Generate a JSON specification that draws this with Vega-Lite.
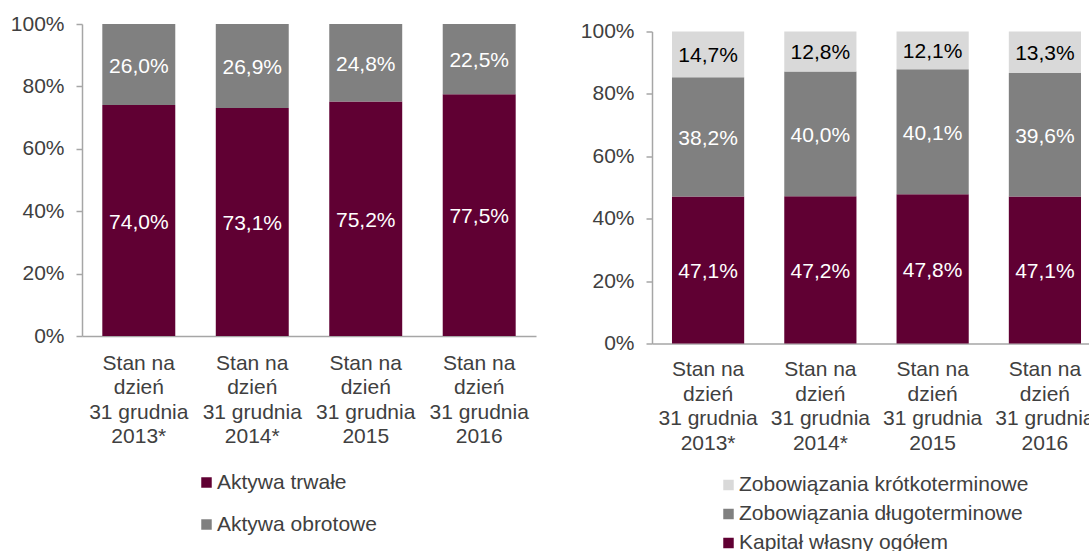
{
  "$schema": "https://vega.github.io/schema/vega-lite/v6.json",
  "padding": {"top": 13, "left": 10, "right": 0, "bottom": 0},
  "background": "white",
  "config": {
    "font": "Liberation Sans",
    "view": {"stroke": null},
    "locale": {"number": {"decimal": ",", "thousands": " ", "grouping": [3], "currency": ["", " zł"]}},
    "concat": {"spacing": 44},
    "axis": {"labelFont": "Liberation Sans", "labelFontSize": 21, "labelColor": "#404040", "domainColor": "#A6A6A6", "tickColor": "#A6A6A6", "domainWidth": 1.5, "tickWidth": 1.5, "grid": false, "title": null},
    "legend": {"labelFont": "Liberation Sans", "labelFontSize": 21, "labelColor": "#404040", "symbolType": "square", "symbolSize": 110, "symbolStrokeWidth": 0, "labelOffset": 0, "labelLimit": 0, "title": null, "orient": "none"}
  },
  "center": true,
  "resolve": {"scale": {"color": "independent"}, "legend": {"color": "independent"}},
  "hconcat": [
    {
      "width": 454,
      "height": 312,
      "data": {"values": [
        {"okres": "2013*", "seria": "Aktywa trwałe", "k": 1, "v": 0.740},
        {"okres": "2013*", "seria": "Aktywa obrotowe", "k": 2, "v": 0.260},
        {"okres": "2014*", "seria": "Aktywa trwałe", "k": 1, "v": 0.731},
        {"okres": "2014*", "seria": "Aktywa obrotowe", "k": 2, "v": 0.269},
        {"okres": "2015", "seria": "Aktywa trwałe", "k": 1, "v": 0.752},
        {"okres": "2015", "seria": "Aktywa obrotowe", "k": 2, "v": 0.248},
        {"okres": "2016", "seria": "Aktywa trwałe", "k": 1, "v": 0.775},
        {"okres": "2016", "seria": "Aktywa obrotowe", "k": 2, "v": 0.225}
      ]},
      "encoding": {
        "x": {"field": "okres", "type": "nominal", "sort": null,
              "scale": {"paddingInner": 0.357, "paddingOuter": 0.179},
              "axis": {"labelAngle": 0, "ticks": false, "labelPadding": 16, "labelBaseline": "top", "labelLineHeight": 24.5,
                       "labelExpr": "['Stan na', 'dzień', '31 grudnia', datum.label]"}},
        "y": {"field": "v", "type": "quantitative", "stack": "zero",
              "scale": {"domain": [0, 1], "nice": false},
              "axis": {"values": [0, 0.2, 0.4, 0.6, 0.8, 1], "format": ".0%", "tickSize": 6, "labelPadding": 12}},
        "order": {"field": "k", "type": "quantitative"}
      },
      "layer": [
        {"mark": {"type": "bar"},
         "encoding": {"color": {"field": "seria", "type": "nominal",
            "scale": {"domain": ["Aktywa trwałe", "Aktywa obrotowe"], "range": ["#600033", "#808080"]},
            "legend": {"legendX": 88, "legendY": 422, "padding": 26, "rowPadding": 20, "direction": "vertical"}}}},
        {"mark": {"type": "text", "fontSize": 21, "color": "white", "dy": 2},
         "encoding": {"y": {"field": "v", "type": "quantitative", "stack": "zero", "bandPosition": 0.5},
                      "text": {"field": "v", "type": "quantitative", "format": ".1%"}}}
      ]
    },
    {
      "width": 449,
      "height": 312,
      "data": {"values": [
        {"okres": "2013*", "seria": "Kapitał własny ogółem", "k": 1, "v": 0.471},
        {"okres": "2013*", "seria": "Zobowiązania długoterminowe", "k": 2, "v": 0.382},
        {"okres": "2013*", "seria": "Zobowiązania krótkoterminowe", "k": 3, "v": 0.147},
        {"okres": "2014*", "seria": "Kapitał własny ogółem", "k": 1, "v": 0.472},
        {"okres": "2014*", "seria": "Zobowiązania długoterminowe", "k": 2, "v": 0.400},
        {"okres": "2014*", "seria": "Zobowiązania krótkoterminowe", "k": 3, "v": 0.128},
        {"okres": "2015", "seria": "Kapitał własny ogółem", "k": 1, "v": 0.478},
        {"okres": "2015", "seria": "Zobowiązania długoterminowe", "k": 2, "v": 0.401},
        {"okres": "2015", "seria": "Zobowiązania krótkoterminowe", "k": 3, "v": 0.121},
        {"okres": "2016", "seria": "Kapitał własny ogółem", "k": 1, "v": 0.471},
        {"okres": "2016", "seria": "Zobowiązania długoterminowe", "k": 2, "v": 0.396},
        {"okres": "2016", "seria": "Zobowiązania krótkoterminowe", "k": 3, "v": 0.133}
      ]},
      "encoding": {
        "x": {"field": "okres", "type": "nominal", "sort": null,
              "scale": {"paddingInner": 0.357, "paddingOuter": 0.178},
              "axis": {"labelAngle": 0, "ticks": false, "labelPadding": 15, "labelBaseline": "top", "labelLineHeight": 24.5,
                       "labelExpr": "['Stan na', 'dzień', '31 grudnia', datum.label]"}},
        "y": {"field": "v", "type": "quantitative", "stack": "zero",
              "scale": {"domain": [0, 1], "nice": false},
              "axis": {"values": [0, 0.2, 0.4, 0.6, 0.8, 1], "format": ".0%", "tickSize": 6, "labelPadding": 12}},
        "order": {"field": "k", "type": "quantitative"}
      },
      "layer": [
        {"mark": {"type": "bar"},
         "encoding": {"color": {"field": "seria", "type": "nominal",
            "scale": {"domain": ["Zobowiązania krótkoterminowe", "Zobowiązania długoterminowe", "Kapitał własny ogółem"], "range": ["#D9D9D9", "#808080", "#600033"]},
            "legend": {"legendX": 66, "legendY": 443, "rowPadding": 7, "direction": "vertical"}}}},
        {"mark": {"type": "text", "fontSize": 21, "dy": 2},
         "encoding": {"y": {"field": "v", "type": "quantitative", "stack": "zero", "bandPosition": 0.5},
                      "text": {"field": "v", "type": "quantitative", "format": ".1%"},
                      "color": {"condition": {"test": "datum.k === 3", "value": "black"}, "value": "white"}}}
      ]
    }
  ]
}
